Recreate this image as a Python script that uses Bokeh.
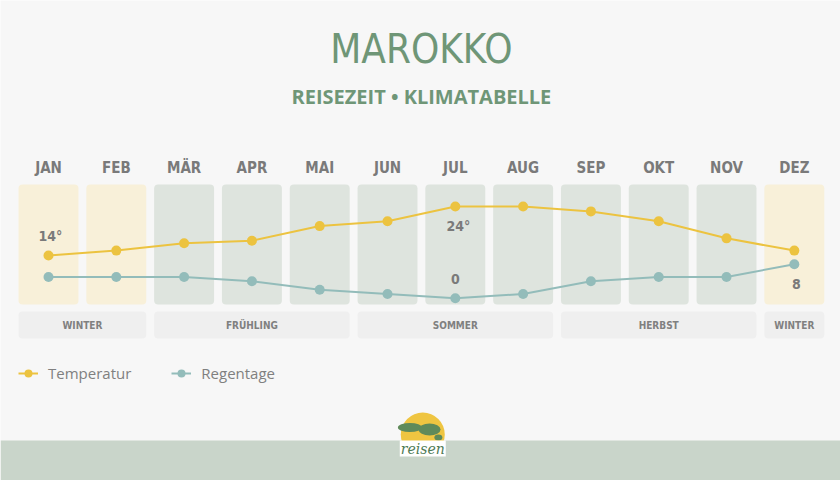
from bokeh.plotting import figure
from bokeh.models import Range1d, Legend, LegendItem, BoxAnnotation
from bokeh.core.properties import value
from bokeh.embed import file_html
from bokeh.resources import INLINE

months = ["JAN", "FEB", "MÄR", "APR", "MAI", "JUN", "JUL", "AUG", "SEP", "OKT", "NOV", "DEZ"]
temperature = [14, 15, 16.5, 17, 20, 21, 24, 24, 23, 21, 17.5, 15]
rain_days = [5, 5, 5, 4, 2, 1, 0, 1, 4, 5, 5, 8]
winter_months = [True, True, False, False, False, False, False, False, False, False, False, True]
seasons = ["WINTER", "FRÜHLING", "SOMMER", "HERBST", "WINTER"]
season_first = [0, 2, 5, 8, 11]
season_last = [1, 4, 7, 10, 11]

YELLOW = "#ecc340"
TEAL = "#93bcba"
GRAY = "#7a7a7a"
GREEN = "#6f9677"
BG = "#f7f7f7"

idx = list(range(len(months)))
half = 0.442

p = figure(width=840, height=480, x_range=Range1d(-0.708, 11.681), y_range=Range1d(480, 0),
           x_axis_type=None, y_axis_type=None, toolbar_location=None, output_backend="svg",
           min_border=0, background_fill_color=BG, border_fill_color=BG, outline_line_color=None)
p.extra_y_ranges = {"temp": Range1d(-31.92, 66.04), "rain": Range1d(-42.89, 70.05)}

# bottom band
p.add_layout(BoxAnnotation(top=440, fill_color="#c9d5ca", fill_alpha=1, line_color=None, level="underlay"))

# month columns
p.quad(left=[i - half for i in idx], right=[i + half for i in idx], top=184, bottom=304,
       fill_color=["#f8f0d9" if w else "#dee4de" for w in winter_months], line_color=None, border_radius=4)

# season bars
p.quad(left=[a - half for a in season_first], right=[b + half for b in season_last], top=311, bottom=338,
       fill_color="#efefef", line_color=None, border_radius=4)
p.text(x=[(a + b) / 2 for a, b in zip(season_first, season_last)], y=325, text=seasons,
       text_font=value("DejaVu Sans Condensed"), text_font_style="bold", text_font_size="10px",
       text_color="#808080", text_align="center", text_baseline="middle")

# month labels
p.text(x=idx, y=167, text=months, text_font=value("DejaVu Sans Condensed"), text_font_style="bold",
       text_font_size="15px", text_color=GRAY, text_align="center", text_baseline="middle")

# title
p.text(x=[5.5], y=[48], text=["MAROKKO"], text_font=value("DejaVu Sans Condensed"),
       text_font_size="40px", text_color=GREEN, text_align="center", text_baseline="middle")
p.text(x=[5.5], y=[96], text=["REISEZEIT • KLIMATABELLE"], text_font=value("Open Sans"),
       text_font_style="bold", text_font_size="20px", text_color=GREEN, text_align="center",
       text_baseline="middle")

# series
t_line = p.line(idx, temperature, y_range_name="temp", line_color=YELLOW, line_width=2)
t_pts = p.scatter(idx, temperature, y_range_name="temp", size=10, fill_color=YELLOW, line_color=None)
r_line = p.line(idx, rain_days, y_range_name="rain", line_color=TEAL, line_width=2)
r_pts = p.scatter(idx, rain_days, y_range_name="rain", size=10, fill_color=TEAL, line_color=None)

# min/max labels
tmin = temperature.index(min(temperature))
tmax = temperature.index(max(temperature))
rmin = rain_days.index(min(rain_days))
rmax = rain_days.index(max(rain_days))
lab_font = dict(text_font=value("DejaVu Sans Condensed"), text_font_style="bold", text_font_size="14px",
                text_color=GRAY, text_align="center", text_baseline="middle")
p.text(x=[tmin], y=[temperature[tmin]], text=[f"{temperature[tmin]:g}°"], y_range_name="temp",
       y_offset=-19, x_offset=2, **lab_font)
p.text(x=[tmax], y=[temperature[tmax]], text=[f"{temperature[tmax]:g}°"], y_range_name="temp",
       y_offset=20, x_offset=3, **lab_font)
p.text(x=[rmin], y=[rain_days[rmin]], text=[f"{rain_days[rmin]:g}"], y_range_name="rain",
       y_offset=-19, **lab_font)
p.text(x=[rmax], y=[rain_days[rmax]], text=[f"{rain_days[rmax]:g}"], y_range_name="rain",
       y_offset=20, x_offset=2, **lab_font)

# legend
legend = Legend(items=[LegendItem(label="Temperatur", renderers=[t_line, t_pts]),
                       LegendItem(label="Regentage", renderers=[r_line, r_pts])],
                orientation="horizontal", location=(18, 97), padding=0, margin=0, spacing=40,
                glyph_width=20, glyph_height=20, label_standoff=10, background_fill_alpha=0,
                border_line_color=None, label_text_font="Open Sans", label_text_font_size="15px",
                label_text_color="#808080")
p.add_layout(legend, "center")

# logo
p.scatter(x=[5.52], y=[434], size=44, fill_color="#efc541", line_color=None)
p.ellipse(x=[5.33, 5.62, 5.75], y=[427, 429, 437], width=[24, 22, 8], height=[9, 12, 6], width_units="screen",
          height_units="screen", fill_color="#5f8a5a", line_color=None)
p.rect(x=[5.52], y=[448], width=46, height=16, width_units="screen", height_units="screen",
       fill_color="white", line_color=None)
p.text(x=[5.52], y=[448], text=["reisen"], text_font=value("DejaVu Serif"), text_font_style="italic",
       text_font_size="14px", text_color="#4e7b55", text_align="center", text_baseline="middle")

open("out.html", "w").write(file_html(p, INLINE))
